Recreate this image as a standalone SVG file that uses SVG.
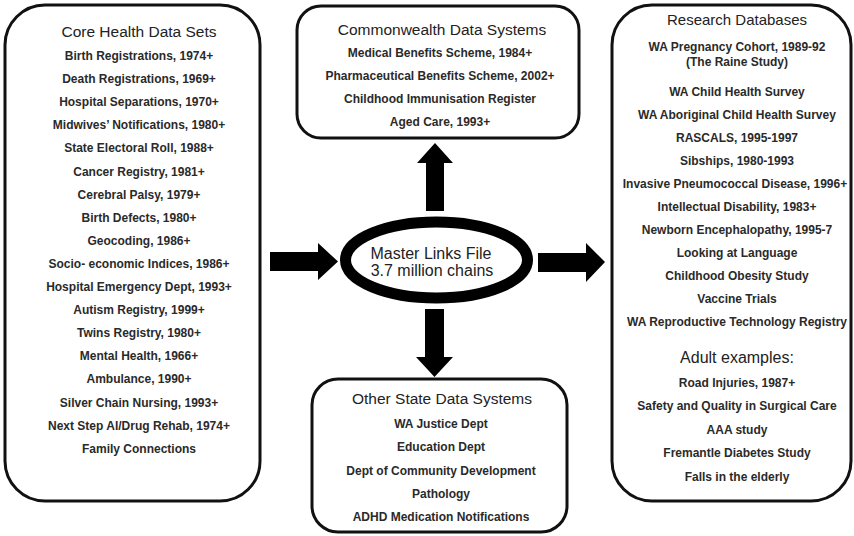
<svg xmlns="http://www.w3.org/2000/svg" width="854" height="536" viewBox="0 0 854 536">
  <style>
    .box { fill: #ffffff; stroke: #111111; stroke-width: 3; }
    .hdr { font-family: "Liberation Sans", Arial, sans-serif; font-size: 15.5px; fill: #222222; text-anchor: middle; }
    .item { font-family: "Liberation Sans", Arial, sans-serif; font-size: 12px; font-weight: bold; fill: #2a2a2a; text-anchor: middle; }
    .hub { font-family: "Liberation Sans", Arial, sans-serif; font-size: 16px; fill: #222222; text-anchor: middle; }
    .arrow { fill: #000000; }
  </style>
  <rect width="854" height="536" fill="#ffffff"/>

  <!-- Core health data sets -->
  <g id="core-health">
    <rect class="box" x="5" y="5" width="255" height="496" rx="40" ry="40"/>
    <text class="hdr" x="139" y="37">Core Health Data Sets</text>
    <text class="item" x="139" y="60">Birth Registrations, 1974+</text>
    <text class="item" x="139" y="83.1">Death Registrations, 1969+</text>
    <text class="item" x="139" y="106.2">Hospital Separations, 1970+</text>
    <text class="item" x="139" y="129.3">Midwives’ Notifications, 1980+</text>
    <text class="item" x="139" y="152.4">State Electoral Roll, 1988+</text>
    <text class="item" x="139" y="175.5">Cancer Registry, 1981+</text>
    <text class="item" x="139" y="198.6">Cerebral Palsy, 1979+</text>
    <text class="item" x="139" y="221.7">Birth Defects, 1980+</text>
    <text class="item" x="139" y="244.8">Geocoding, 1986+</text>
    <text class="item" x="139" y="267.9">Socio- economic Indices, 1986+</text>
    <text class="item" x="139" y="291">Hospital Emergency Dept, 1993+</text>
    <text class="item" x="139" y="314.1">Autism Registry, 1999+</text>
    <text class="item" x="139" y="337.2">Twins Registry, 1980+</text>
    <text class="item" x="139" y="360.3">Mental Health, 1966+</text>
    <text class="item" x="139" y="383.4">Ambulance, 1990+</text>
    <text class="item" x="139" y="406.5">Silver Chain Nursing, 1993+</text>
    <text class="item" x="139" y="429.6">Next Step Al/Drug Rehab, 1974+</text>
    <text class="item" x="139" y="452.7">Family Connections</text>
  </g>

  <!-- Commonwealth data systems -->
  <g id="commonwealth">
    <rect class="box" x="297" y="6" width="282" height="132" rx="24" ry="24"/>
    <text class="hdr" x="442" y="35">Commonwealth Data Systems</text>
    <text class="item" x="440" y="57">Medical Benefits Scheme, 1984+</text>
    <text class="item" x="440" y="80">Pharmaceutical Benefits Scheme, 2002+</text>
    <text class="item" x="440" y="103">Childhood Immunisation Register</text>
    <text class="item" x="440" y="126">Aged Care, 1993+</text>
  </g>

  <!-- Other state data systems -->
  <g id="other-state">
    <rect class="box" x="312" y="379" width="255" height="153" rx="26" ry="26"/>
    <text class="hdr" x="442" y="404">Other State Data Systems</text>
    <text class="item" x="441" y="428">WA Justice Dept</text>
    <text class="item" x="441" y="451.3">Education Dept</text>
    <text class="item" x="441" y="474.5">Dept of Community Development</text>
    <text class="item" x="441" y="497.8">Pathology</text>
    <text class="item" x="441" y="521">ADHD Medication Notifications</text>
  </g>

  <!-- Research databases -->
  <g id="research">
    <rect class="box" x="612" y="5" width="239" height="496" rx="40" ry="40"/>
    <text class="hdr" x="737" y="25" style="font-size:15px">Research Databases</text>
    <text class="item" x="737" y="51">WA Pregnancy Cohort, 1989-92</text>
    <text class="item" x="737" y="66">(The Raine Study)</text>
    <text class="item" x="737" y="96">WA Child Health Survey</text>
    <text class="item" x="737" y="119">WA Aboriginal Child Health Survey</text>
    <text class="item" x="737" y="142">RASCALS, 1995-1997</text>
    <text class="item" x="737" y="165">Sibships, 1980-1993</text>
    <text class="item" x="735" y="188">Invasive Pneumococcal Disease, 1996+</text>
    <text class="item" x="737" y="211">Intellectual Disability, 1983+</text>
    <text class="item" x="737" y="234">Newborn Encephalopathy, 1995-7</text>
    <text class="item" x="737" y="257">Looking at Language</text>
    <text class="item" x="737" y="280">Childhood Obesity Study</text>
    <text class="item" x="737" y="303">Vaccine Trials</text>
    <text class="item" x="737" y="326">WA Reproductive Technology Registry</text>
    <text class="hdr" x="737" y="363" style="font-size:16px">Adult examples:</text>
    <text class="item" x="737" y="387">Road Injuries, 1987+</text>
    <text class="item" x="737" y="410.4">Safety and Quality in Surgical Care</text>
    <text class="item" x="737" y="433.8">AAA study</text>
    <text class="item" x="737" y="457.2">Fremantle Diabetes Study</text>
    <text class="item" x="737" y="480.6">Falls in the elderly</text>
  </g>

  <!-- Central master links file -->
  <g id="master-links">
    <ellipse cx="436.5" cy="260" rx="91" ry="38" fill="#ffffff" stroke="#000000" stroke-width="11"/>
    <text class="hub" x="431" y="258.5">Master Links File</text>
    <text class="hub" x="432" y="276">3.7 million chains</text>
  </g>

  <!-- Block arrows between the hub and the data sources -->
  <g id="connectors">
    <polygon class="arrow" points="270,252 318,252 318,243 338,261.5 318,280 318,271 270,271"/>
    <polygon class="arrow" points="538,253 586,253 586,243 605,262 586,282 586,272 538,272"/>
    <polygon class="arrow" points="426,211 426,163 417,163 435,143 453,163 444,163 444,211"/>
    <polygon class="arrow" points="425,309 444,309 444,357 453,357 434.5,377 416,357 425,357"/>
  </g>
</svg>
